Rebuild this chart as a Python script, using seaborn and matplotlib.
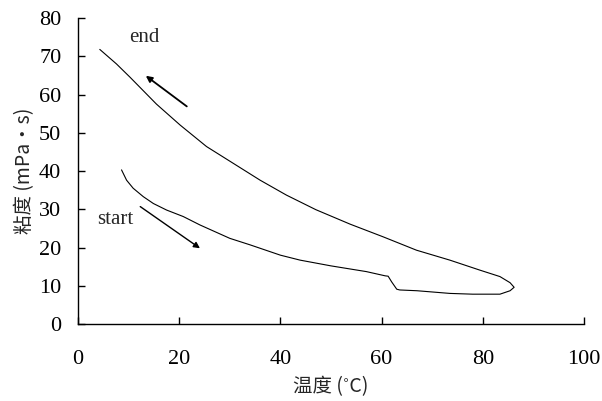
import matplotlib
matplotlib.use("Agg")
import pandas as pd
import seaborn as sns
import matplotlib.pyplot as plt

# heating branch (start) then cooling branch (end)
heat_t = [8.6, 9.6, 10.9, 12.9, 14.9, 17.5, 20.8, 24.1, 30.0, 34.0, 40.0, 43.9,
          50.0, 57.0, 60.7, 61.3, 62.0, 63.0, 63.6, 67.0, 73.5, 78.0, 83.4,
          85.4, 86.2]
heat_v = [40.3, 37.6, 35.5, 33.3, 31.5, 29.8, 28.1, 25.9, 22.4, 20.7, 18.0, 16.7,
          15.2, 13.7, 12.6, 12.5, 11.0, 9.1, 8.9, 8.7, 8.0, 7.8, 7.8,
          8.7, 9.6]
cool_t = [85.4, 83.4, 79.4, 73.5, 66.9, 60.3, 53.8, 47.0, 41.2, 36.0, 30.7,
          25.4, 20.2, 15.5, 10.3, 7.6, 4.3]
cool_v = [10.8, 12.4, 14.1, 16.7, 19.3, 22.8, 26.1, 29.9, 33.7, 37.6, 42.0,
          46.4, 52.0, 57.5, 64.5, 68.0, 71.8]

df = pd.DataFrame({
    "温度": heat_t + cool_t,
    "粘度": heat_v + cool_v,
})

sns.set_style("ticks")
plt.rcParams["font.family"] = ["Liberation Serif", "Noto Sans CJK SC"]

fig = plt.figure(figsize=(6.02, 4.01), dpi=100)
ax = fig.add_axes([0.1296, 0.192, 0.8404, 0.763])

sns.lineplot(data=df, x="温度", y="粘度", sort=False, estimator=None,
             color="black", linewidth=0.8, ax=ax)

ax.set_xlim(0, 100)
ax.set_ylim(0, 80)
ax.set_xticks(range(0, 101, 20))
ax.set_yticks(range(0, 81, 10))
ax.tick_params(axis="both", direction="in", length=5, width=1.0,
               labelsize=16, colors="black")
ax.tick_params(axis="x", pad=19)
ax.tick_params(axis="y", pad=12)
for s in ["top", "right"]:
    ax.spines[s].set_visible(False)
for s in ["left", "bottom"]:
    ax.spines[s].set_linewidth(1.0)
    ax.spines[s].set_color("black")

ax.set_xlabel("温度 (˚C)", fontsize=14, labelpad=5,
              family=["Noto Sans CJK SC", "Liberation Serif"])
ax.set_ylabel("粘度 (mPa•s)", fontsize=14, labelpad=3,
              family=["Noto Sans CJK SC", "Liberation Serif"])

ax.annotate("", xy=(13.4, 64.9), xytext=(21.5, 56.9),
            arrowprops=dict(arrowstyle="-|>", color="black", lw=1.3,
                            mutation_scale=9, shrinkA=0, shrinkB=0))
ax.annotate("", xy=(24.1, 19.8), xytext=(12.3, 30.7),
            arrowprops=dict(arrowstyle="-|>", color="black", lw=1.0,
                            mutation_scale=9, shrinkA=0, shrinkB=0))
ax.text(13.2, 74.8, "end", fontsize=15, ha="center", va="center")
ax.text(7.3, 27.4, "start", fontsize=15, ha="center", va="center")

fig.savefig("out.png", dpi=100)
